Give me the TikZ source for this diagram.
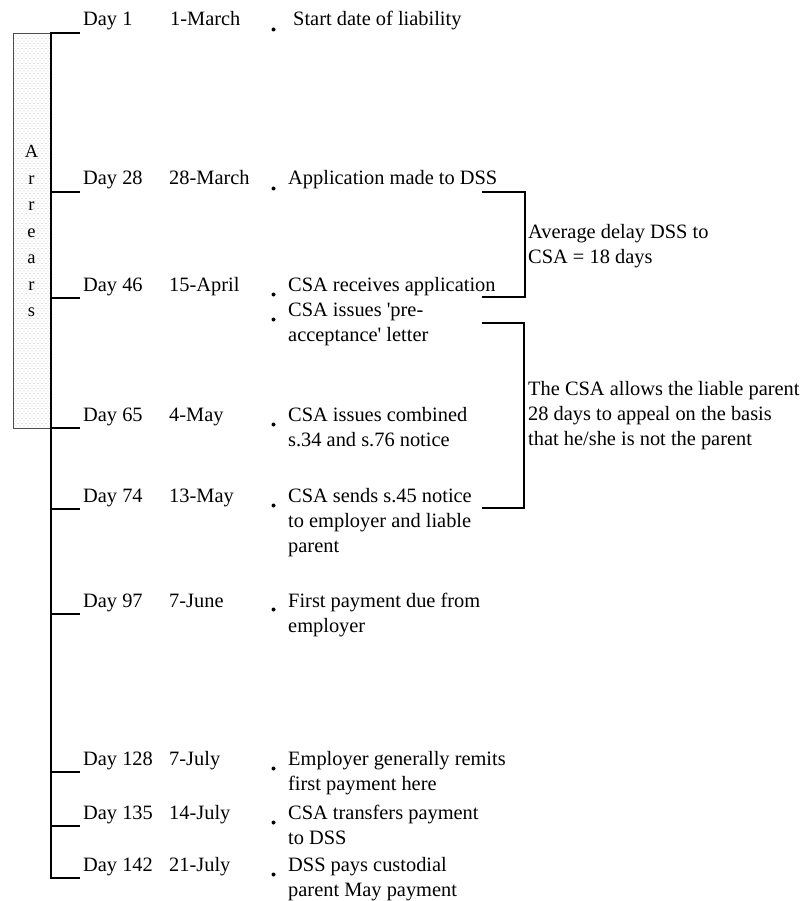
\documentclass[tikz,border=0pt]{standalone}
\usepackage{fontspec}
\newfontfamily\tnr{Liberation Serif}
\usetikzlibrary{patterns}
\pgfdeclarepatternformonly{sparsedots}{\pgfqpoint{-0.5pt}{-0.5pt}}{\pgfqpoint{2.5pt}{3pt}}{\pgfqpoint{4pt}{5pt}}{%
  \pgfpathcircle{\pgfqpoint{0pt}{0pt}}{0.45pt}%
  \pgfpathcircle{\pgfqpoint{2pt}{2.5pt}}{0.45pt}%
  \pgfusepath{fill}}
\newcommand{\stk}[1]{\vtop{\halign{##\hfil\cr#1\crcr}}}
\newcommand{\cstk}[1]{\vtop{\halign{\hfil##\hfil\cr#1\crcr}}}
\begin{document}
\begin{tikzpicture}[x=1pt,y=-1pt,
  txt/.style={font=\tnr\fontsize{20.4}{25}\selectfont, inner sep=0pt, anchor=base west},
  arrtxt/.style={font=\tnr\fontsize{18.5}{26.5}\selectfont, inner sep=0pt, anchor=base},
  tickline/.style={line width=2pt},
  brk/.style={line width=2pt},
  dotmark/.style={circle, fill=black, inner sep=0pt, minimum size=4pt},
  arrbox/.style={draw=black!70, line width=0.9pt, pattern=sparsedots, pattern color=black!55}]
\useasboundingbox (0,0) rectangle (805,901);

% Arrears box
\draw[arrbox] (13,33) rectangle (50,428);
\node[arrtxt] (arr) at (31.5,158) {\cstk{A\cr r\cr r\cr e\cr a\cr r\cr s}};

% timeline
\coordinate (top) at (51,33);
\coordinate (bot) at (51,878);
\coordinate (e1) at (80,33);
\coordinate (e10) at (80,878);
\draw[tickline] (e1) -- (top) -- (bot) -- (e10);
\foreach \y/\n in {192/2,298/3,428/5,509/6,614/7,772/8,826/9}{
  \coordinate (s\n) at (51,\y);
  \coordinate (e\n) at (80,\y);
  \draw[tickline] (s\n) -- (e\n);
}

% Day labels
\node[txt] (d1) at (83,26) {Day 1};
\node[txt] (d2) at (83,185) {Day 28};
\node[txt] (d3) at (83,291) {Day 46};
\node[txt] (d5) at (83,421) {Day 65};
\node[txt] (d6) at (83,502) {Day 74};
\node[txt] (d7) at (83,607) {Day 97};
\node[txt] (d8) at (83,765) {Day 128};
\node[txt] (d9) at (83,819) {Day 135};
\node[txt] (d10) at (83,871) {Day 142};

% Dates
\node[txt] (m1) at (170,26) {1-March};
\node[txt] (m2) at (169,185) {28-March};
\node[txt] (m3) at (169,291) {15-April};
\node[txt] (m5) at (169,421) {4-May};
\node[txt] (m6) at (169,502) {13-May};
\node[txt] (m7) at (169,607) {7-June};
\node[txt] (m8) at (169,765) {7-July};
\node[txt] (m9) at (169,819) {14-July};
\node[txt] (m10) at (169,871) {21-July};

% Bullets
\node[dotmark] (b1) at (273.5,29.5) {};
\node[dotmark] (b2) at (273.5,188.5) {};
\node[dotmark] (b3) at (273.5,294.5) {};
\node[dotmark] (b4) at (273.5,319.5) {};
\node[dotmark] (b5) at (273.5,424.5) {};
\node[dotmark] (b6) at (273.5,505.5) {};
\node[dotmark] (b7) at (273.5,609.5) {};
\node[dotmark] (b8) at (273.5,768.5) {};
\node[dotmark] (b9) at (273.5,822.5) {};
\node[dotmark] (b10) at (273.5,874.5) {};

% Descriptions
\node[txt] (t1) at (293,26) {Start date of liability};
\node[txt] (t2) at (288,185) {Application made to DSS};
\node[txt] (t3) at (288,291) {CSA receives application};
\node[txt] (t4) at (288,316) {\stk{CSA issues 'pre-\cr acceptance' letter}};
\node[txt] (t5) at (288,421) {\stk{CSA issues combined\cr s.34 and s.76 notice}};
\node[txt] (t6) at (288,502) {\stk{CSA sends s.45 notice\cr to employer and liable\cr parent}};
\node[txt] (t7) at (288,607) {\stk{First payment due from\cr employer}};
\node[txt] (t8) at (288,765) {\stk{Employer generally remits\cr first payment here}};
\node[txt] (t9) at (288,819) {\stk{CSA transfers payment\cr to DSS}};
\node[txt] (t10) at (288,871) {\stk{DSS pays custodial\cr parent May payment}};

% Brackets
\draw[brk] (482,192) -- (525,192) -- (525,297) -- (482,297);
\draw[brk] (482,323) -- (524,323) -- (524,508) -- (482,508);
\node[txt] (l1) at (528,238) {\stk{Average delay DSS to\cr CSA = 18 days}};
\node[txt] (l2) at (528,395) {\stk{The CSA allows the liable parent\cr 28 days to appeal on the basis\cr that he/she is not the parent}};
\end{tikzpicture}
\end{document}
